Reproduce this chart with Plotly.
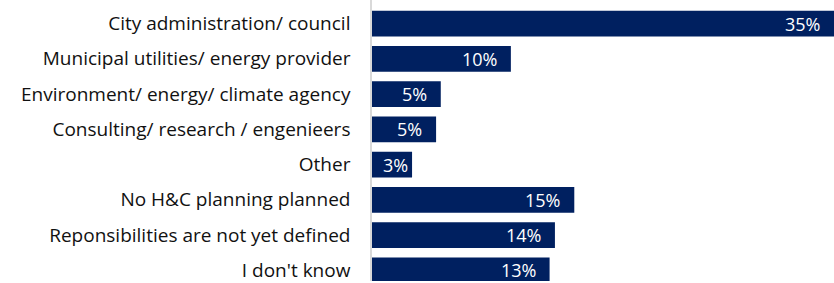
import plotly.graph_objects as go

categories = [
    "City administration/ council",
    "Municipal utilities/ energy provider",
    "Environment/ energy/ climate agency",
    "Consulting/ research / engenieers",
    "Other",
    "No H&C planning planned",
    "Reponsibilities are not yet defined",
    "I don't know",
]
values = [34.6, 10.4, 5.15, 4.8, 3.0, 15.15, 13.7, 13.3]
labels = ["35%", "10%", "5%", "5%", "3%", "15%", "14%", "13%"]

BAR_COLOR = "#002060"
FONT = "Open Sans"

fig = go.Figure()
fig.add_trace(go.Bar(
    x=values,
    y=categories,
    orientation="h",
    marker=dict(color=BAR_COLOR, line=dict(width=0)),
    hoverinfo="skip",
))

for c, v, t in zip(categories, values, labels):
    # labels that would not fit with padding sit nearer the bar end
    shift = -12 if v > 4 else -2
    fig.add_annotation(
        x=v, y=c, text=t, showarrow=False,
        xanchor="right", xshift=shift,
        font=dict(family=FONT, size=18, color="white"),
    )

fig.update_layout(
    width=834, height=283,
    margin=dict(l=372, r=0, t=0, b=0),
    paper_bgcolor="white",
    plot_bgcolor="white",
    bargap=0.27,
    showlegend=False,
    font=dict(family=FONT, size=19, color="#111111"),
)
fig.update_xaxes(
    range=[0, 34.6], visible=False, showgrid=False, zeroline=False,
)
fig.update_yaxes(
    type="category",
    categoryorder="array", categoryarray=categories,
    range=[7.304, -0.668],
    showgrid=False, zeroline=False,
    showline=True, linecolor="#d9d9d9", linewidth=1.5,
    ticks="", ticklabelstandoff=16,
    tickfont=dict(family=FONT, size=19, color="#111111"),
)

fig.write_html(
    "out.html",
    config={"displayModeBar": False},
    post_script="document.body.style.margin='0';",
)
